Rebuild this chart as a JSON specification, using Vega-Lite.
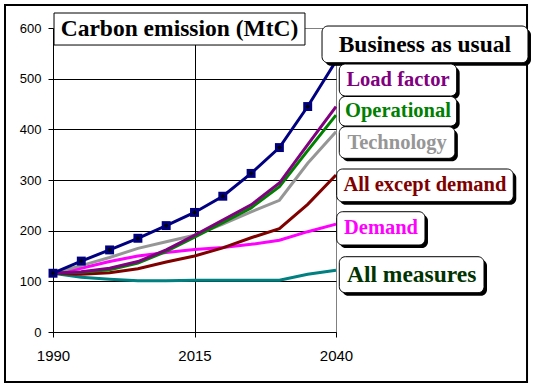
{
  "$schema": "https://vega.github.io/schema/vega-lite/v6.json",
  "width": 283,
  "height": 304,
  "autosize": {"type": "none"},
  "padding": {"left": 53, "top": 28, "right": 198, "bottom": 57},
  "background": "white",
  "config": {
    "view": {"stroke": "#808080", "strokeWidth": 1}
  },
  "datasets": {
    "lines": [
      {"series": "All measures", "year": 1990, "value": 116},
      {"series": "All measures", "year": 1995, "value": 108},
      {"series": "All measures", "year": 2000, "value": 104},
      {"series": "All measures", "year": 2005, "value": 101},
      {"series": "All measures", "year": 2010, "value": 101},
      {"series": "All measures", "year": 2015, "value": 102},
      {"series": "All measures", "year": 2020, "value": 102},
      {"series": "All measures", "year": 2025, "value": 102},
      {"series": "All measures", "year": 2030, "value": 102},
      {"series": "All measures", "year": 2035, "value": 114},
      {"series": "All measures", "year": 2040, "value": 122},
      {"series": "Demand", "year": 1990, "value": 116},
      {"series": "Demand", "year": 1995, "value": 126},
      {"series": "Demand", "year": 2000, "value": 139},
      {"series": "Demand", "year": 2005, "value": 150},
      {"series": "Demand", "year": 2010, "value": 157},
      {"series": "Demand", "year": 2015, "value": 163},
      {"series": "Demand", "year": 2020, "value": 167},
      {"series": "Demand", "year": 2025, "value": 173},
      {"series": "Demand", "year": 2030, "value": 181},
      {"series": "Demand", "year": 2035, "value": 198},
      {"series": "Demand", "year": 2040, "value": 213},
      {"series": "All except demand", "year": 1990, "value": 116},
      {"series": "All except demand", "year": 1995, "value": 114},
      {"series": "All except demand", "year": 2000, "value": 117},
      {"series": "All except demand", "year": 2005, "value": 125},
      {"series": "All except demand", "year": 2010, "value": 138},
      {"series": "All except demand", "year": 2015, "value": 150},
      {"series": "All except demand", "year": 2020, "value": 166},
      {"series": "All except demand", "year": 2025, "value": 186},
      {"series": "All except demand", "year": 2030, "value": 204},
      {"series": "All except demand", "year": 2035, "value": 252},
      {"series": "All except demand", "year": 2040, "value": 310},
      {"series": "Technology", "year": 1990, "value": 116},
      {"series": "Technology", "year": 1995, "value": 131},
      {"series": "Technology", "year": 2000, "value": 147},
      {"series": "Technology", "year": 2005, "value": 165},
      {"series": "Technology", "year": 2010, "value": 178},
      {"series": "Technology", "year": 2015, "value": 191},
      {"series": "Technology", "year": 2020, "value": 213},
      {"series": "Technology", "year": 2025, "value": 237},
      {"series": "Technology", "year": 2030, "value": 260},
      {"series": "Technology", "year": 2035, "value": 333},
      {"series": "Technology", "year": 2040, "value": 395},
      {"series": "Operational", "year": 1990, "value": 116},
      {"series": "Operational", "year": 1995, "value": 118},
      {"series": "Operational", "year": 2000, "value": 123},
      {"series": "Operational", "year": 2005, "value": 136},
      {"series": "Operational", "year": 2010, "value": 159},
      {"series": "Operational", "year": 2015, "value": 187},
      {"series": "Operational", "year": 2020, "value": 216},
      {"series": "Operational", "year": 2025, "value": 245},
      {"series": "Operational", "year": 2030, "value": 287},
      {"series": "Operational", "year": 2035, "value": 358},
      {"series": "Operational", "year": 2040, "value": 428},
      {"series": "Load factor", "year": 1990, "value": 116},
      {"series": "Load factor", "year": 1995, "value": 119},
      {"series": "Load factor", "year": 2000, "value": 126},
      {"series": "Load factor", "year": 2005, "value": 139},
      {"series": "Load factor", "year": 2010, "value": 162},
      {"series": "Load factor", "year": 2015, "value": 191},
      {"series": "Load factor", "year": 2020, "value": 221},
      {"series": "Load factor", "year": 2025, "value": 251},
      {"series": "Load factor", "year": 2030, "value": 294},
      {"series": "Load factor", "year": 2035, "value": 370},
      {"series": "Load factor", "year": 2040, "value": 445},
      {"series": "Business as usual", "year": 1990, "value": 116},
      {"series": "Business as usual", "year": 1995, "value": 140},
      {"series": "Business as usual", "year": 2000, "value": 162},
      {"series": "Business as usual", "year": 2005, "value": 185},
      {"series": "Business as usual", "year": 2010, "value": 210},
      {"series": "Business as usual", "year": 2015, "value": 236},
      {"series": "Business as usual", "year": 2020, "value": 268},
      {"series": "Business as usual", "year": 2025, "value": 313},
      {"series": "Business as usual", "year": 2030, "value": 364},
      {"series": "Business as usual", "year": 2035, "value": 445},
      {"series": "Business as usual", "year": 2040, "value": 535}
    ],
    "labels": [
      {"series": "Business as usual", "label": "Business as usual", "x1": 2037.53, "x2": 2073.92, "y1": 531.5, "y2": 603.9, "tx": 2055.7, "ty": 567.4},
      {"series": "Load factor", "label": "Load factor", "x1": 2040.58, "x2": 2061.32, "y1": 465.8, "y2": 528.9, "tx": 2050.95, "ty": 497.4},
      {"series": "Operational", "label": "Operational", "x1": 2040.58, "x2": 2061.32, "y1": 406.6, "y2": 464.8, "tx": 2050.95, "ty": 435.6},
      {"series": "Technology", "label": "Technology", "x1": 2040.58, "x2": 2061.0, "y1": 342.8, "y2": 405.2, "tx": 2050.8, "ty": 374.0},
      {"series": "All except demand", "label": "All except demand", "x1": 2040.12, "x2": 2071.32, "y1": 257.2, "y2": 321.7, "tx": 2055.7, "ty": 289.5},
      {"series": "Demand", "label": "Demand", "x1": 2040.12, "x2": 2055.72, "y1": 171.7, "y2": 237.4, "tx": 2047.95, "ty": 204.7},
      {"series": "All measures", "label": "All measures", "x1": 2040.58, "x2": 2066.15, "y1": 77.6, "y2": 148.6, "tx": 2053.37, "ty": 113.1}
    ],
    "title": [
      {"label": "Carbon emission (MtC)", "x1": 1990.18, "x2": 2034.52, "y1": 566.4, "y2": 629.6, "tx": 2012.35, "ty": 598.0}
    ],
    "frame": [
      {"x1": 1981.52, "x2": 2073.75, "y1": -98.68, "y2": 645.39}
    ]
  },
  "layer": [
    {
      "data": {"name": "frame"},
      "mark": {"type": "rect", "fill": null, "stroke": "black", "strokeWidth": 2},
      "encoding": {
        "x": {"field": "x1", "type": "quantitative", "title": null},
        "x2": {"field": "x2"},
        "y": {"field": "y1", "type": "quantitative", "title": null},
        "y2": {"field": "y2"}
      }
    },
    {
      "data": {"name": "lines"},
      "mark": {"type": "line", "strokeWidth": 3},
      "encoding": {
        "x": {
          "field": "year", "type": "quantitative", "title": null,
          "scale": {"domain": [1990, 2040], "nice": false, "zero": false},
          "axis": {
            "values": [1990, 2015, 2040], "format": "d",
            "labelFont": "Liberation Sans", "labelFontSize": 15, "labelColor": "black",
            "labelPadding": 11, "labelFlush": false, "labelOverlap": false,
            "tickColor": "black", "tickSize": 5, "domainColor": "black",
            "grid": true, "gridOpacity": 1,
            "gridColor": {"condition": {"test": "datum.value === 2015", "value": "black"}, "value": "transparent"}
          }
        },
        "y": {
          "field": "value", "type": "quantitative", "title": null,
          "scale": {"domain": [0, 600], "nice": false},
          "axis": {
            "values": [0, 100, 200, 300, 400, 500, 600],
            "labelFont": "Liberation Sans", "labelFontSize": 13, "labelColor": "black",
            "labelPadding": 7, "tickColor": "black", "tickSize": 5, "domainColor": "black",
            "grid": true, "gridOpacity": 1,
            "gridColor": {"condition": {"test": "datum.value === 600", "value": "transparent"}, "value": "black"}
          }
        },
        "color": {
          "field": "series", "type": "nominal", "legend": null,
          "scale": {
            "domain": ["All measures", "Demand", "All except demand", "Technology", "Operational", "Load factor", "Business as usual"],
            "range": ["#008080", "#FF00FF", "#800000", "#969696", "#008000", "#800080", "#000080"]
          }
        }
      }
    },
    {
      "data": {"name": "lines"},
      "transform": [{"filter": "datum.series === 'Business as usual'"}],
      "mark": {"type": "point", "shape": "square", "filled": true, "size": 80, "color": "#000080", "opacity": 1},
      "encoding": {
        "x": {"field": "year", "type": "quantitative", "title": null},
        "y": {"field": "value", "type": "quantitative", "title": null}
      }
    },
    {
      "data": {"name": "lines"},
      "transform": [{"filter": "datum.series === 'Business as usual'"}],
      "mark": {"type": "point", "shape": "M-1,0L1,0M0,-1L0,1M-0.7,-0.7L0.7,0.7M-0.7,0.7L0.7,-0.7", "filled": false, "stroke": "black", "strokeWidth": 1, "size": 20, "opacity": 1},
      "encoding": {
        "x": {"field": "year", "type": "quantitative", "title": null},
        "y": {"field": "value", "type": "quantitative", "title": null}
      }
    },
    {
      "data": {"name": "title"},
      "mark": {"type": "rect", "fill": "white", "stroke": "black", "strokeWidth": 1},
      "encoding": {
        "x": {"field": "x1", "type": "quantitative", "title": null},
        "x2": {"field": "x2"},
        "y": {"field": "y1", "type": "quantitative", "title": null},
        "y2": {"field": "y2"}
      }
    },
    {
      "data": {"name": "title"},
      "mark": {"type": "text", "font": "Liberation Serif", "fontWeight": "bold", "fontSize": 23.5, "align": "center", "baseline": "middle", "fill": "black"},
      "encoding": {
        "x": {"field": "tx", "type": "quantitative", "title": null},
        "y": {"field": "ty", "type": "quantitative", "title": null},
        "text": {"field": "label"}
      }
    },
    {
      "data": {"name": "labels"},
      "mark": {"type": "rect", "fill": "black", "cornerRadius": 6, "xOffset": 3, "x2Offset": 3, "yOffset": 3, "y2Offset": 3},
      "encoding": {
        "x": {"field": "x1", "type": "quantitative", "title": null},
        "x2": {"field": "x2"},
        "y": {"field": "y1", "type": "quantitative", "title": null},
        "y2": {"field": "y2"}
      }
    },
    {
      "data": {"name": "labels"},
      "mark": {"type": "rect", "fill": "white", "stroke": "black", "strokeWidth": 1, "cornerRadius": 6},
      "encoding": {
        "x": {"field": "x1", "type": "quantitative", "title": null},
        "x2": {"field": "x2"},
        "y": {"field": "y1", "type": "quantitative", "title": null},
        "y2": {"field": "y2"}
      }
    },
    {
      "data": {"name": "labels"},
      "mark": {"type": "text", "font": "Liberation Serif", "fontWeight": "bold", "align": "center", "baseline": "middle"},
      "encoding": {
        "x": {"field": "tx", "type": "quantitative", "title": null},
        "y": {"field": "ty", "type": "quantitative", "title": null},
        "text": {"field": "label"},
        "size": {"condition": {"test": "datum.series === 'Business as usual' || datum.series === 'All measures'", "value": 23.5}, "value": 20.5},
        "fill": {
          "field": "series", "type": "nominal", "legend": null,
          "scale": {
            "domain": ["All measures", "Demand", "All except demand", "Technology", "Operational", "Load factor", "Business as usual"],
            "range": ["#003300", "#FF00FF", "#800000", "#969696", "#008000", "#800080", "#000000"]
          }
        }
      }
    }
  ]
}
